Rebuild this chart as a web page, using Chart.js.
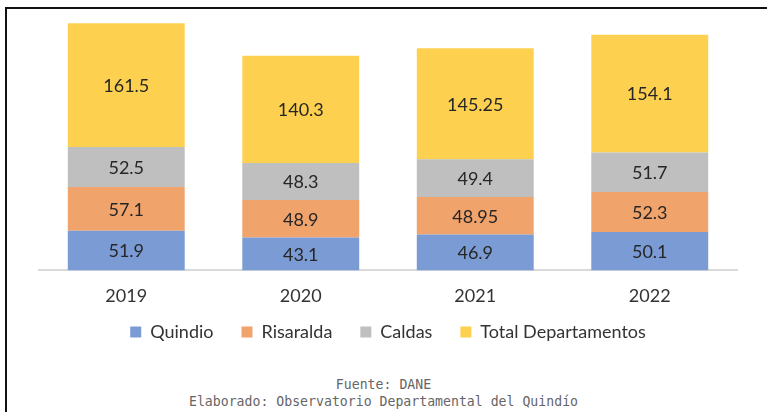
<!DOCTYPE html>
<html>
<head>
<meta charset="utf-8">
<script src="https://cdn.jsdelivr.net/npm/chart.js@4"></script>
<style>
  html, body { margin: 0; padding: 0; width: 767px; height: 412px; overflow: hidden; background: #fff; }
  #marco { position: absolute; left: 5px; top: 7px; width: 800px; height: 500px; border: 2px solid #111; box-sizing: border-box; }
  #wrap { position: absolute; left: 0; top: 0; width: 767px; height: 360px; }
  .pie { position: absolute; left: 0; width: 767px; text-align: center; font-family: "DejaVu Sans Mono", monospace; font-size: 13.2px; color: #666; }
</style>
</head>
<body>
<div id="marco"></div>
<div id="wrap"><canvas id="grafico"></canvas></div>
<div class="pie" style="top:377px">Fuente: DANE</div>
<div class="pie" style="top:394px">Elaborado: Observatorio Departamental del Quindío</div>
<script>
// datos
const anos = ["2019", "2020", "2021", "2022"];
const quindio = [51.9, 43.1, 46.9, 50.1];
const risaralda = [57.1, 48.9, 48.95, 52.3];
const caldas = [52.5, 48.3, 49.4, 51.7];
const totalDep = [161.5, 140.3, 145.25, 154.1];

const fuente = "Lato, 'Liberation Sans', sans-serif";

// etiquetas dentro de cada segmento
const etiquetas = {
  id: "etiquetas",
  afterDatasetsDraw(chart) {
    const c = chart.ctx;
    c.save();
    c.font = `18px ${fuente}`;
    c.fillStyle = "#262626";
    c.textAlign = "center";
    c.textBaseline = "middle";
    chart.data.datasets.forEach((ds, i) => {
      chart.getDatasetMeta(i).data.forEach((bar, j) => {
        const y = (bar.y + bar.base) / 2;
        c.fillText(String(ds.data[j]), bar.x, y + 1);
      });
    });
    c.restore();
  }
};

// separación horizontal de la leyenda con espacios (padding chico para no crecer en alto)
const genLabels = (chart) => {
  const base = Chart.defaults.plugins.legend.labels.generateLabels(chart);
  return base.map((l, i) => {
    if (i < base.length - 1) l.text = l.text + "\u2002\u2002\u2002";
    return l;
  });
};

new Chart(document.getElementById("grafico"), {
  type: "bar",
  data: {
    labels: anos,
    datasets: [
      { label: "Quindio", data: quindio, backgroundColor: "#7b9bd5" },
      { label: "Risaralda", data: risaralda, backgroundColor: "#f1a36c" },
      { label: "Caldas", data: caldas, backgroundColor: "#bfbfbf" },
      { label: "Total Departamentos", data: totalDep, backgroundColor: "#fdd14f" }
    ]
  },
  options: {
    responsive: true,
    maintainAspectRatio: false,
    animation: false,
    layout: { padding: { left: 39, right: 30, top: 18, bottom: 9 } },
    datasets: { bar: { barPercentage: 0.67, categoryPercentage: 1, borderWidth: 0 } },
    plugins: {
      legend: {
        position: "bottom",
        labels: {
          font: { family: fuente, size: 18 },
          color: "#333",
          boxWidth: 11,
          boxHeight: 11,
          padding: 1,
          generateLabels: genLabels
        }
      },
      tooltip: { enabled: false }
    },
    scales: {
      x: {
        stacked: true,
        grid: { display: false, drawTicks: false },
        border: { color: "#d9d9d9", width: 2 },
        ticks: { font: { family: fuente, size: 18 }, color: "#333", padding: 15 }
      },
      y: { stacked: true, display: false, min: 0, max: 330 }
    }
  },
  plugins: [etiquetas]
});
</script>
</body>
</html>
